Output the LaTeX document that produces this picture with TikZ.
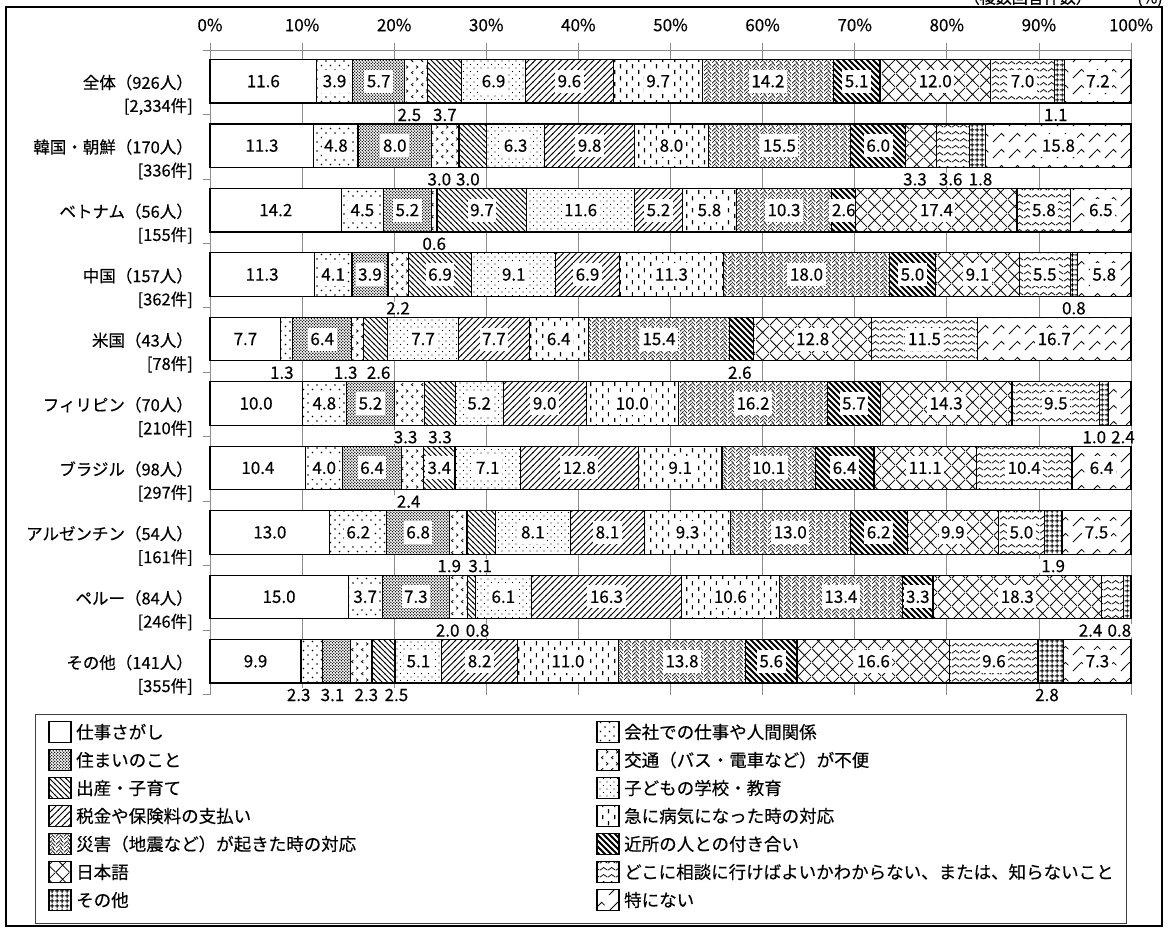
\documentclass[tikz,border=0pt]{standalone}
\usepackage{fontspec}
\setmainfont{Noto Sans CJK JP}[FakeBold=0.3]
\usetikzlibrary{patterns}

\pgfdeclarepatternformonly{pkaisha}{\pgfqpoint{-1pt}{-1pt}}{\pgfqpoint{10pt}{10pt}}{\pgfqpoint{9pt}{9pt}}{%
\pgfpathcircle{\pgfqpoint{2pt}{2pt}}{0.8pt}\pgfpathcircle{\pgfqpoint{6.5pt}{6.5pt}}{0.8pt}\pgfusepath{fill}}
\pgfdeclarepatternformonly{psumai}{\pgfqpoint{-0.2pt}{-0.2pt}}{\pgfqpoint{3.2pt}{3.2pt}}{\pgfqpoint{3pt}{3pt}}{%
\pgfpathcircle{\pgfqpoint{0.75pt}{0.75pt}}{0.75pt}\pgfpathcircle{\pgfqpoint{2.25pt}{2.25pt}}{0.75pt}\pgfusepath{fill}}
\pgfdeclarepatternformonly{pkoutsu}{\pgfpointorigin}{\pgfqpoint{10pt}{12pt}}{\pgfqpoint{10pt}{12pt}}{%
\pgfsetlinewidth{0.8pt}%
\pgfpathmoveto{\pgfqpoint{3.5pt}{1pt}}\pgfpathlineto{\pgfqpoint{1.5pt}{2.5pt}}\pgfpathlineto{\pgfqpoint{3.5pt}{4pt}}%
\pgfpathmoveto{\pgfqpoint{6.5pt}{7pt}}\pgfpathlineto{\pgfqpoint{8.5pt}{8.5pt}}\pgfpathlineto{\pgfqpoint{6.5pt}{10pt}}%
\pgfusepath{stroke}}
\pgfdeclarepatternformonly{pshussan}{\pgfqpoint{-1pt}{-1pt}}{\pgfqpoint{6.5pt}{6.5pt}}{\pgfqpoint{5.5pt}{5.5pt}}{%
\pgfsetlinewidth{0.9pt}%
\pgfpathmoveto{\pgfqpoint{-0.5pt}{6pt}}\pgfpathlineto{\pgfqpoint{6pt}{-0.5pt}}\pgfusepath{stroke}}
\pgfdeclarepatternformonly{pkodomo}{\pgfqpoint{-1pt}{-1pt}}{\pgfqpoint{8pt}{8pt}}{\pgfqpoint{7pt}{7pt}}{%
\pgfpathcircle{\pgfqpoint{1.5pt}{1.5pt}}{0.7pt}\pgfpathcircle{\pgfqpoint{5pt}{5pt}}{0.7pt}\pgfusepath{fill}}
\pgfdeclarepatternformonly{pzeikin}{\pgfqpoint{-1pt}{-1pt}}{\pgfqpoint{7.5pt}{7.5pt}}{\pgfqpoint{6.5pt}{6.5pt}}{%
\pgfsetlinewidth{0.9pt}%
\pgfpathmoveto{\pgfqpoint{-0.5pt}{-0.5pt}}\pgfpathlineto{\pgfqpoint{7pt}{7pt}}\pgfusepath{stroke}}
\pgfdeclarepatternformonly{pbyouki}{\pgfpointorigin}{\pgfqpoint{12pt}{12pt}}{\pgfqpoint{12pt}{12pt}}{%
\pgfsetlinewidth{1.3pt}%
\pgfpathmoveto{\pgfqpoint{3pt}{1pt}}\pgfpathlineto{\pgfqpoint{3pt}{5.5pt}}%
\pgfpathmoveto{\pgfqpoint{9pt}{7pt}}\pgfpathlineto{\pgfqpoint{9pt}{11.5pt}}\pgfusepath{stroke}}
\pgfdeclarepatternformonly{psaigai}{\pgfpointorigin}{\pgfqpoint{8pt}{8pt}}{\pgfqpoint{8pt}{8pt}}{%
\pgfsetlinewidth{0.75pt}%
\pgfpathmoveto{\pgfqpoint{0pt}{0pt}}\pgfpathlineto{\pgfqpoint{4pt}{4pt}}%
\pgfpathmoveto{\pgfqpoint{0pt}{4pt}}\pgfpathlineto{\pgfqpoint{4pt}{8pt}}%
\pgfpathmoveto{\pgfqpoint{4pt}{2pt}}\pgfpathlineto{\pgfqpoint{8pt}{-2pt}}%
\pgfpathmoveto{\pgfqpoint{4pt}{6pt}}\pgfpathlineto{\pgfqpoint{8pt}{2pt}}%
\pgfpathmoveto{\pgfqpoint{4pt}{10pt}}\pgfpathlineto{\pgfqpoint{8pt}{6pt}}%
\pgfusepath{stroke}}
\pgfdeclarepatternformonly{pkinjo}{\pgfqpoint{-1pt}{-1pt}}{\pgfqpoint{7pt}{7pt}}{\pgfqpoint{6pt}{6pt}}{%
\pgfsetlinewidth{1.8pt}%
\pgfpathmoveto{\pgfqpoint{-0.5pt}{6.5pt}}\pgfpathlineto{\pgfqpoint{6.5pt}{-0.5pt}}\pgfusepath{stroke}}
\pgfdeclarepatternformonly{pnihongo}{\pgfpointorigin}{\pgfqpoint{14pt}{14pt}}{\pgfqpoint{14pt}{14pt}}{%
\pgfsetlinewidth{0.8pt}%
\pgfpathmoveto{\pgfqpoint{0pt}{0pt}}\pgfpathlineto{\pgfqpoint{14pt}{14pt}}%
\pgfpathmoveto{\pgfqpoint{0pt}{14pt}}\pgfpathlineto{\pgfqpoint{14pt}{0pt}}\pgfusepath{stroke}}
\pgfdeclarepatternformonly{pdokoni}{\pgfpointorigin}{\pgfqpoint{8pt}{7pt}}{\pgfqpoint{8pt}{7pt}}{%
\pgfsetlinewidth{0.8pt}%
\pgfpathmoveto{\pgfqpoint{0pt}{2pt}}%
\pgfpathcurveto{\pgfqpoint{2pt}{2pt}}{\pgfqpoint{2pt}{5pt}}{\pgfqpoint{4pt}{5pt}}%
\pgfpathcurveto{\pgfqpoint{6pt}{5pt}}{\pgfqpoint{6pt}{2pt}}{\pgfqpoint{8pt}{2pt}}\pgfusepath{stroke}}
\pgfdeclarepatternformonly{psonota}{\pgfpointorigin}{\pgfqpoint{5pt}{5pt}}{\pgfqpoint{5pt}{5pt}}{%
\pgfsetlinewidth{1pt}%
\pgfpathmoveto{\pgfqpoint{2.5pt}{0pt}}\pgfpathlineto{\pgfqpoint{2.5pt}{5pt}}%
\pgfpathmoveto{\pgfqpoint{0pt}{2.5pt}}\pgfpathlineto{\pgfqpoint{5pt}{2.5pt}}\pgfusepath{stroke}}
\pgfdeclarepatternformonly{ptokuni}{\pgfpointorigin}{\pgfqpoint{16pt}{16pt}}{\pgfqpoint{16pt}{16pt}}{%
\pgfsetlinewidth{0.8pt}%
\pgfpathmoveto{\pgfqpoint{1pt}{1pt}}\pgfpathlineto{\pgfqpoint{10pt}{10pt}}\pgfpathlineto{\pgfqpoint{13pt}{7pt}}\pgfusepath{stroke}}

\tikzset{
osa/.style={draw=black,line width=1.2pt,preaction={fill=white}},
p1/.style={}, p2/.style={pattern=pkaisha}, p3/.style={pattern=psumai},
p4/.style={pattern=pkoutsu}, p5/.style={pattern=pshussan}, p6/.style={pattern=pkodomo},
p7/.style={pattern=pzeikin}, p8/.style={pattern=pbyouki}, p9/.style={pattern=psaigai},
p10/.style={pattern=pkinjo}, p11/.style={pattern=pnihongo}, p12/.style={pattern=pdokoni},
p13/.style={pattern=psonota}, p14/.style={pattern=ptokuni},
arvo/.style={fill=white,inner xsep=2.5pt,inner ysep=5.5pt,text height=12pt,text depth=0pt,font=\fontsize{17}{20}\selectfont},
alla/.style={arvo,inner ysep=0.8pt},
rivi/.style={inner sep=0pt,font=\fontsize{16.5}{19}\selectfont},
selite/.style={inner sep=0pt,font=\fontsize{17.5}{20}\selectfont},
akseli/.style={inner sep=0pt,font=\fontsize{17}{20}\selectfont},
ruudukko/.style={draw=black!45,line width=0.8pt}
}

\begin{document}
\begin{tikzpicture}[x=1pt,y=-1pt]
\useasboundingbox (0,0) rectangle (1169,927);
\newcommand\palkki[4]{
\pgfmathsetmacro\yt{59.5+64.45*#1}
\pgfmathsetmacro\yb{\yt+43.5}
\node[rivi,anchor=east] (nimi#1) at (193,\yt+23) {#2};
\node[rivi,anchor=east] (maara#1) at (193,\yt+47) {#3};
\xdef\summa{0}
\foreach \osuus/\tapa/\siirto in {#4} {\pgfmathsetmacro\uusi{\summa+\osuus}\xdef\summa{\uusi}}
\pgfmathsetmacro\ska{921/\summa}
\xdef\kum{0}
\foreach \osuus/\tapa/\siirto [count=\i] in {#4} {
\pgfmathsetmacro\xa{210+\ska*\kum}
\pgfmathsetmacro\xb{\xa+\ska*\osuus}
\pgfmathsetmacro\xm{(\xa+\xb)/2}
\ifdim\osuus pt>0pt \path[osa,p\i] (\xa,\yt) rectangle (\xb,\yb); \fi
\if\tapa i \node[arvo] (a#1-\i) at (\xm,\yt+21.75) {\osuus}; \fi
\if\tapa b \node[alla] (a#1-\i) at (\xm+\siirto,\yb+12) {\osuus}; \fi
\pgfmathsetmacro\uusi{\kum+\osuus}
\xdef\kum{\uusi}
}
}
\node[anchor=base east,inner sep=0pt,font=\fontsize{16}{19}\selectfont] (otsikko) at (1092,3.5) {（複数回答件数）};
\node[anchor=base east,inner sep=0pt,font=\fontsize{16}{19}\selectfont] (yksikko) at (1163,3.5) {(\%)};
\draw[line width=1.5pt] (6,7) rectangle (1162,926);
\foreach \k [evaluate=\k as \p using int(10*\k)] in {0,...,10} {
\draw[ruudukko] ({210+92.1*\k},43) -- ({210+92.1*\k},695);
\node[akseli] (x\k) at ({210+92.1*\k},25) {\p\%};
}
\foreach \k in {0,...,10}
\draw[ruudukko] (203,{50+64.45*\k}) -- (210,{50+64.45*\k});
\draw[ruudukko] (210,50) -- (1131,50);
\palkki{0}{全体（926人）}{[2,334件]}{11.6/i/0, 3.9/i/0, 5.7/i/0, 2.5/b/-7, 3.7/b/0, 6.9/i/0, 9.6/i/0, 9.7/i/0, 14.2/i/0, 5.1/i/0, 12.0/i/0, 7.0/i/0, 1.1/b/-4, 7.2/i/0}
\palkki{1}{韓国・朝鮮（170人）}{[336件]}{11.3/i/0, 4.8/i/0, 8.0/i/0, 3.0/b/-6, 3.0/b/-5, 6.3/i/0, 9.8/i/0, 8.0/i/0, 15.5/i/0, 6.0/i/0, 3.3/b/-6, 3.6/b/-2, 1.8/b/3, 15.8/i/0}
\palkki{2}{ベトナム（56人）}{[155件]}{14.2/i/0, 4.5/i/0, 5.2/i/0, 0.6/b/0, 9.7/i/0, 11.6/i/0, 5.2/i/0, 5.8/i/0, 10.3/i/0, 2.6/i/0, 17.4/i/0, 5.8/i/0, 0/n/0, 6.5/i/0}
\palkki{3}{中国（157人）}{[362件]}{11.3/i/0, 4.1/i/0, 3.9/i/0, 2.2/b/0, 6.9/i/0, 9.1/i/0, 6.9/i/0, 11.3/i/0, 18.0/i/0, 5.0/i/0, 9.1/i/0, 5.5/i/0, 0.8/b/0, 5.8/i/0}
\palkki{4}{米国（43人）}{[78件]}{7.7/i/0, 1.3/b/-5, 6.4/i/0, 1.3/b/-12, 2.6/b/3, 7.7/i/0, 7.7/i/0, 6.4/i/0, 15.4/i/0, 2.6/b/-2, 12.8/i/0, 11.5/i/0, 0/n/0, 16.7/i/0}
\palkki{5}{フィリピン（70人）}{[210件]}{10.0/i/0, 4.8/i/0, 5.2/i/0, 3.3/b/-4, 3.3/b/0, 5.2/i/0, 9.0/i/0, 10.0/i/0, 16.2/i/0, 5.7/i/0, 14.3/i/0, 9.5/i/0, 1.0/b/-10, 2.4/b/3}
\palkki{6}{ブラジル（98人）}{[297件]}{10.4/i/0, 4.0/i/0, 6.4/i/0, 2.4/b/-4, 3.4/i/0, 7.1/i/0, 12.8/i/0, 9.1/i/0, 10.1/i/0, 6.4/i/0, 11.1/i/0, 10.4/i/0, 0/n/0, 6.4/i/0}
\palkki{7}{アルゼンチン（54人）}{[161件]}{13.0/i/0, 6.2/i/0, 6.8/i/0, 1.9/b/-9, 3.1/b/-1, 8.1/i/0, 8.1/i/0, 9.3/i/0, 13.0/i/0, 6.2/i/0, 9.9/i/0, 5.0/i/0, 1.9/b/0, 7.5/i/0}
\palkki{8}{ペルー（84人）}{[246件]}{15.0/i/0, 3.7/i/0, 7.3/i/0, 2.0/b/-11, 0.8/b/6, 6.1/i/0, 16.3/i/0, 10.6/i/0, 13.4/i/0, 3.3/i/0, 18.3/i/0, 2.4/b/-22, 0.8/b/-8, 0/n/0}
\palkki{9}{その他（141人）}{[355件]}{9.9/i/0, 2.3/b/-13, 3.1/b/-4, 2.3/b/5, 2.5/b/13, 5.1/i/0, 8.2/i/0, 11.0/i/0, 13.8/i/0, 5.6/i/0, 16.6/i/0, 9.6/i/0, 2.8/b/-4, 7.3/i/0}
\draw[line width=1pt,black!75] (35,714) rectangle (1126,923);
\foreach \teksti [count=\i] in {仕事さがし, 会社での仕事や人間関係, 住まいのこと, 交通（バス・電車など）が不便, 出産・子育て, 子どもの学校・教育, 税金や保険料の支払い, 急に病気になった時の対応, 災害（地震など）が起きた時の対応, 近所の人との付き合い, 日本語, どこに相談に行けばよいかわからない、または、知らないこと, その他, 特にない} {
\pgfmathsetmacro\lx{49+548*mod(\i-1,2)}
\pgfmathsetmacro\ly{732+28*floor((\i-1)/2)}
\path[osa,p\i] (\lx,\ly-10.5) rectangle ++(22,21);
\node[selite,anchor=west] (s\i) at (\lx+27,\ly) {\teksti};
}
\end{tikzpicture}
\end{document}
